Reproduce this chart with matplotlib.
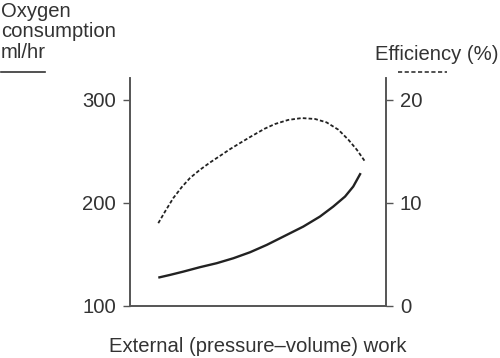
import matplotlib.pyplot as plt
from matplotlib.lines import Line2D

plt.rcParams['font.family'] = ['Liberation Sans', 'DejaVu Sans']

# Oxygen consumption (ml/hr) vs external work (arbitrary units)
work_o2 = [1.105, 1.56, 2.08, 2.73, 3.39, 4.04, 4.69, 5.34, 6.12, 6.77,
           7.42, 7.94, 8.40, 8.72, 9.01]
oxygen = [127.5, 130.1, 133.3, 137.6, 141.5, 146.3, 152.1, 159.2, 168.9,
          177.0, 186.7, 196.4, 206.1, 215.8, 228.8]

# Efficiency (%) vs external work
work_eff = [1.105, 1.37, 1.69, 2.02, 2.34, 2.73, 3.125, 3.52, 3.91, 4.30,
            4.69, 5.02, 5.27, 5.66, 6.18, 6.71, 7.23, 7.68, 8.14, 8.53, 8.86,
            9.18]
efficiency = [8.03, 9.16, 10.46, 11.52, 12.40, 13.20, 13.91, 14.56, 15.21,
              15.80, 16.38, 16.85, 17.20, 17.64, 18.04, 18.22, 18.13, 17.80,
              17.09, 16.12, 15.15, 14.01]

left_ticks = [100, 200, 300]
right_ticks = [0, 10, 20]

line_col = '#222222'
axis_col = '#555555'
text_col = '#333333'
fs = 14.6

fig = plt.figure(figsize=(5, 3.58), dpi=100)
ax = fig.add_axes([0.26, 0.1453, 0.512, 0.6367])
ax2 = ax.twinx()

ax.plot(work_o2, oxygen, color=line_col, lw=1.7, solid_capstyle='butt')
ax2.plot(work_eff, efficiency, color=line_col, lw=1.3, ls=(0, (2.0, 1.2)))

ax.set_xlim(0, 10)
ax.set_ylim(100, 321)
ax2.set_ylim(0, 22.1)

ax.set_xticks([])
ax.set_yticks(left_ticks)
ax2.set_yticks(right_ticks)

for a in (ax, ax2):
    a.spines['top'].set_visible(False)
    for s in ('left', 'right', 'bottom'):
        a.spines[s].set_color(axis_col)
        a.spines[s].set_linewidth(1.2)
    a.tick_params(axis='y', length=5, width=1.0, color=axis_col,
                  labelsize=fs, labelcolor=text_col, pad=5)

fig.text(258 / 500, 1 - 346 / 358, 'External (pressure\u2013volume) work',
         ha='center', va='center', fontsize=fs, color=text_col)

fig.text(0.002, 0.995, 'Oxygen\nconsumption\nml/hr', ha='left', va='top',
         fontsize=fs, color=text_col, linespacing=1.1)
fig.text(375 / 500, 1 - 54 / 358, 'Efficiency (%)', ha='left', va='center',
         fontsize=fs, color=text_col)

# legend-like line samples under the axis titles
fig.add_artist(Line2D([0.002, 0.09], [1 - 72 / 358] * 2,
                      transform=fig.transFigure, color=text_col, lw=1.2))
fig.add_artist(Line2D([0.796, 0.894], [1 - 72 / 358] * 2,
                      transform=fig.transFigure, color=text_col, lw=1.2,
                      ls=(0, (2.5, 1.5))))

plt.savefig('out.png', dpi=100)
